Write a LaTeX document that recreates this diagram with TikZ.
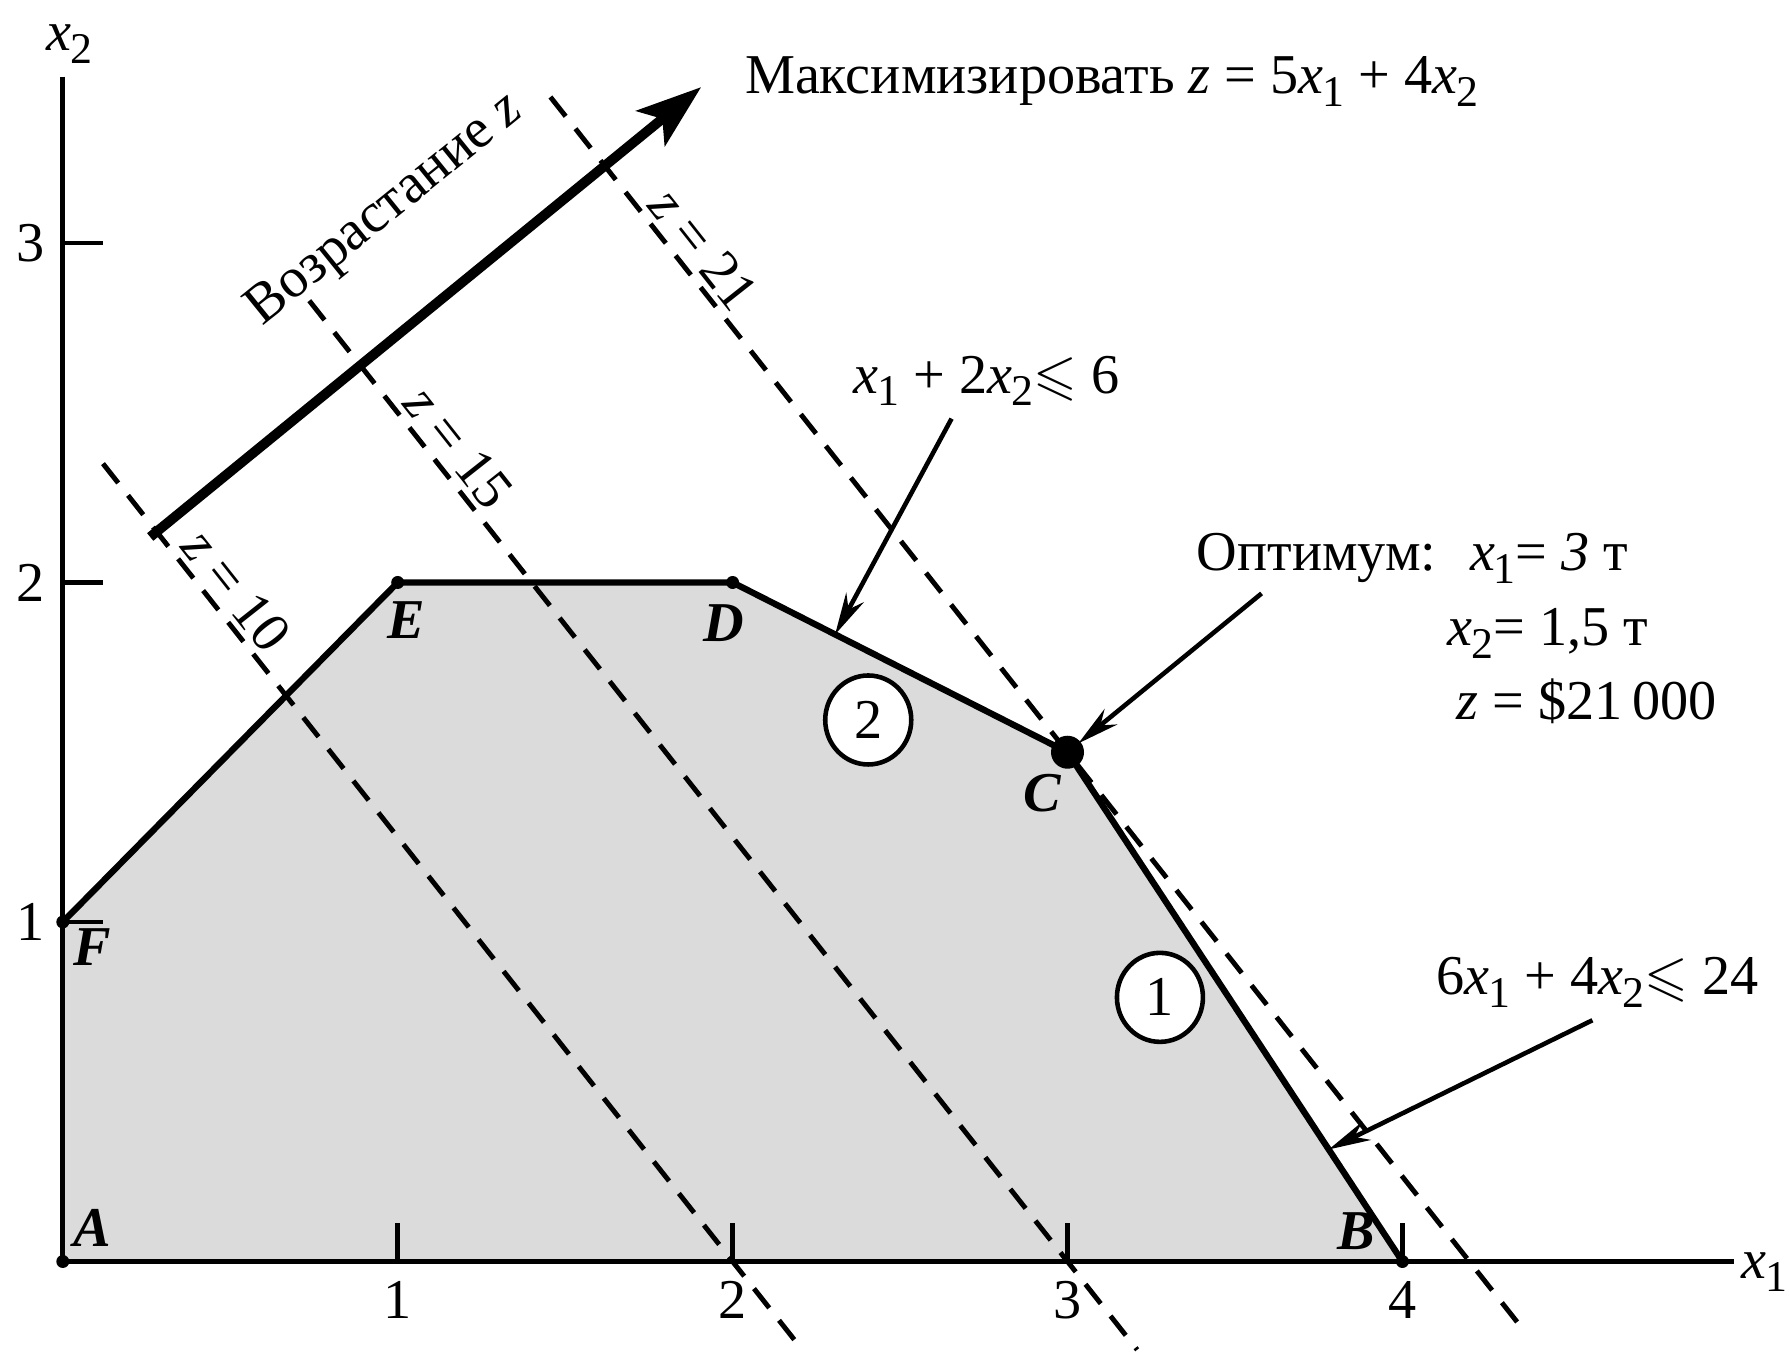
\documentclass[tikz,border=0pt]{standalone}
\usepackage{amssymb}
\usepackage{fontspec}
\setmainfont{Liberation Serif}
\usepackage{tikz}
\usetikzlibrary{arrows.meta,positioning,calc,shapes.geometric}
\definecolor{feasible}{gray}{0.86}
\newcommand{\vx}[1]{\textit{x}\kern-0.02em\raisebox{-0.5ex}{\scalebox{0.78}{#1}}}

\begin{document}
\begin{tikzpicture}[x=3.349cm, y=3.395cm, >=Stealth,
  every node/.style={font=\fontsize{16}{21}\selectfont},
  axis/.style={line width=1.4pt},
  edge/.style={line width=1.8pt, line join=round},
  level/.style={line width=1.4pt, dash pattern=on 7pt off 4.5pt},
  pointer/.style={line width=1.3pt, -{Stealth[length=0.42cm,width=0.2cm]}},
  vertex/.style={font=\fontsize{16}{21}\selectfont\bfseries\itshape, inner sep=0pt},
  zlabel/.style={sloped, anchor=south, inner sep=1.5pt},
  txt/.style={inner sep=0pt},
  ring/.style={draw, fill=white, line width=1.3pt, ellipse, minimum width=0.86cm, minimum height=0.89cm, inner sep=0pt}]
\path[use as bounding box] (-0.628cm,-0.905cm) rectangle (17.272cm,12.615cm);

% corner points of the feasible region
\coordinate (A) at (0,0);
\coordinate (B) at (4,0);
\coordinate (C) at (3,1.5);
\coordinate (D) at (2,2);
\coordinate (E) at (1,2);
\coordinate (F) at (0,1);
\fill[feasible] (A) -- (B) -- (C) -- (D) -- (E) -- (F) -- cycle;

% objective levels
\coordinate (z10a) at (0.12,2.35);  \coordinate (z10b) at (2.208,-0.26);
\coordinate (z15a) at (0.736,2.83); \coordinate (z15b) at (3.208,-0.26);
\coordinate (z21a) at (1.456,3.43); \coordinate (z21b) at (4.352,-0.19);
\draw[level] (z10a) -- node[zlabel, pos=0.161] {\textit{z} = 10} (z10b);
\draw[level] (z15a) -- node[zlabel, pos=0.155] {\textit{z} = 15} (z15b);
\draw[level] (z21a) -- node[zlabel, pos=0.137] {\textit{z} = 21} (z21b);

% constraints
\draw[edge] (F) -- (E) -- (D) -- (C) -- (B);

% axes
\draw[axis] (0,3.49) -- (A) -- (4.99,0);
\foreach \i in {1,2,3} {
  \draw[axis] (0,\i) -- ++(0.4cm,0);
  \node[txt, left=0.17cm] at (0,\i) {\i};
}
\foreach \i in {1,...,4} {
  \draw[axis] (\i,0) -- ++(0,0.38cm);
  \node[txt, below=0.19cm] at (\i,0) {\i};
}
\node[txt] (x2lbl) at (0.02,3.586) {\vx{2}};
\node[txt] (x1lbl) at (5.08,-0.03) {\vx{1}};

\foreach \p in {A,B,D,E,F} \fill (\p) circle (0.065cm);
\fill (C) circle (0.165cm);

\node[vertex] (lA) at (0.087,0.10) {A};
\node[vertex] (lB) at (3.863,0.09) {B};
\node[vertex] (lC) at (2.926,1.38) {C};
\node[vertex] (lD) at (1.975,1.88) {D};
\node[vertex] (lE) at (1.025,1.89) {E};
\node[vertex] (lF) at (0.087,0.927) {F};
\node[ring] (n2) at (2.405,1.595) {2};
\node[ring] (n1) at (3.276,0.778) {1};

% direction of growth
\coordinate (g0) at (0.261,2.134);
\coordinate (g1) at (1.906,3.459);
\draw[line width=2.8pt, -{Stealth[length=0.65cm,width=0.45cm,inset=0.15cm]}] (g0) -- (g1);
\node[txt, rotate=39] (grow) at (0.965,3.095) {Возрастание \textit{z}};
\node[txt, anchor=base west] (goal) at (2.035,3.44) {Максимизировать \textit{z} = 5\vx{1} + 4\vx{2}};

% constraint labels
\coordinate (c2pt) at (2.306,1.847);
\coordinate (c1pt) at (3.78,0.33);
\node[txt, anchor=base west] (c2lbl) at (2.36,2.558) {\vx{1} + 2\vx{2}$\leqslant$ 6};
\node[txt, anchor=base west] (c1lbl) at (4.10,0.786) {6\vx{1} + 4\vx{2}$\leqslant$ 24};
\draw[pointer] ([xshift=-0.35cm,yshift=-0.12cm]c2lbl.south) -- (c2pt);
\draw[pointer] ([xshift=-0.05cm,yshift=-0.12cm]c1lbl.south) -- (c1pt);

% optimum
\node[txt, anchor=base west] (opt) at (3.384,2.035) {Оптимум:};
\node[txt, anchor=base west] (optx) at (4.20,2.035) {\vx{1}= \textit{3} т};
\node[txt, anchor=base west] (opty) at (4.133,1.815) {\vx{2}= 1,5 т};
\node[txt, anchor=base west] (optz) at (4.16,1.595) {\textit{z} = \$21\,000};
\draw[pointer, shorten >=0.14cm] ([xshift=-0.55cm,yshift=-0.1cm]opt.south) -- (C);
\end{tikzpicture}
\end{document}
